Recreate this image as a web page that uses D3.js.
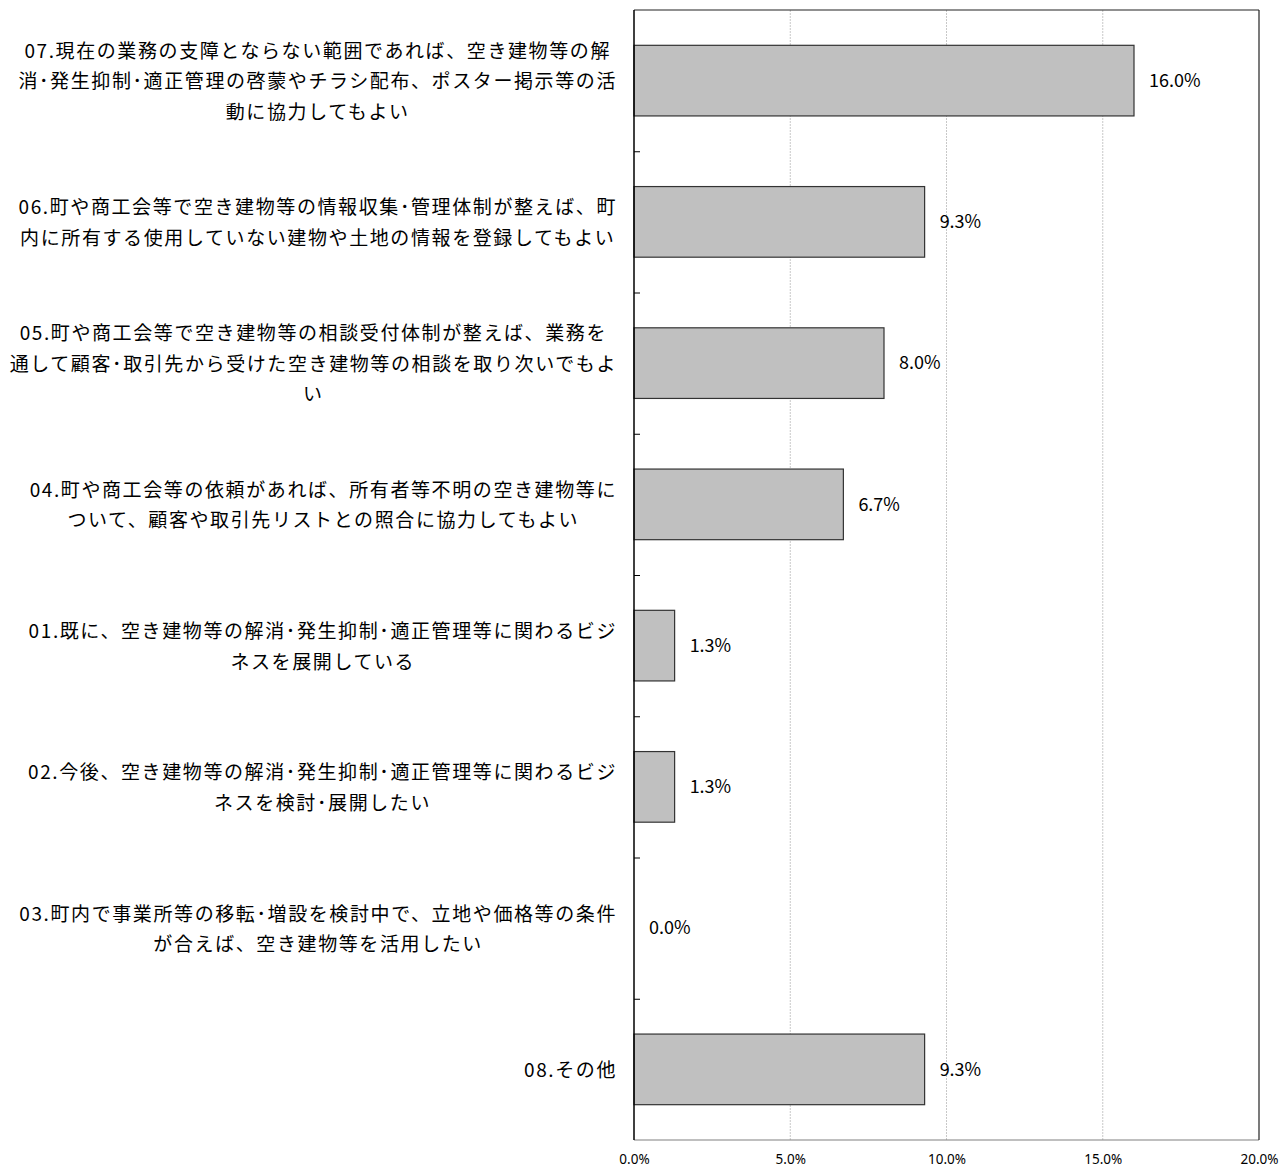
<!DOCTYPE html>
<html>
<head>
<meta charset="utf-8">
<script src="https://cdn.jsdelivr.net/npm/d3@7"></script>
<style>
  body { margin: 0; background: #fff; }
  text { font-family: "Noto Sans CJK JP", "Noto Sans", sans-serif; fill: #000; }
</style>
</head>
<body>
<svg id="chart" width="1282" height="1171"></svg>
<script>
// categories, as wrapped in the picture (one entry per line)
const categories = [
  ["07.現在の業務の支障とならない範囲であれば、空き建物等の解", "消･発生抑制･適正管理の啓蒙やチラシ配布、ポスター掲示等の活", "動に協力してもよい"],
  ["06.町や商工会等で空き建物等の情報収集･管理体制が整えば、町", "内に所有する使用していない建物や土地の情報を登録してもよい"],
  ["05.町や商工会等で空き建物等の相談受付体制が整えば、業務を", "通して顧客･取引先から受けた空き建物等の相談を取り次いでもよ", "い"],
  ["04.町や商工会等の依頼があれば、所有者等不明の空き建物等に", "ついて、顧客や取引先リストとの照合に協力してもよい"],
  ["01.既に、空き建物等の解消･発生抑制･適正管理等に関わるビジ", "ネスを展開している"],
  ["02.今後、空き建物等の解消･発生抑制･適正管理等に関わるビジ", "ネスを検討･展開したい"],
  ["03.町内で事業所等の移転･増設を検討中で、立地や価格等の条件", "が合えば、空き建物等を活用したい"],
  ["08.その他"]
];
const values = [16.0, 9.3, 8.0, 6.7, 1.3, 1.3, 0.0, 9.3];
const xTicks = [0, 5, 10, 15, 20];

let margin = { top: 10, right: 23, bottom: 31, left: 634 };
let width = 1282 - margin.left - margin.right;
let height = 1171 - margin.top - margin.bottom;

let svg = d3.select('#chart');
let g = svg.append("g")
  .attr("transform", "translate(" + margin.left + "," + margin.top + ")");

let x = d3.scaleLinear().domain([0, 20]).range([0, width]);
let y = d3.scaleBand().domain(d3.range(categories.length)).range([0, height]).paddingInner(0.5).paddingOuter(0.25);

// gridlines
g.selectAll(".grid")
  .data(xTicks.slice(1, -1))
  .enter()
  .append("line")
  .attr("x1", d => x(d)).attr("x2", d => x(d))
  .attr("y1", 0).attr("y2", height)
  .attr("stroke", "#c8c8c8")
  .attr("stroke-width", 1)
  .attr("stroke-dasharray", "2,1");

// bars
g.selectAll(".bar")
  .data(values)
  .enter()
  .append("rect")
  .attr("x", x(0))
  .attr("y", (d, i) => y(i))
  .attr("width", d => x(d) - x(0))
  .attr("height", y.bandwidth())
  .attr("fill", "#c0c0c0")
  .attr("stroke", d => d > 0 ? "#333" : "none")
  .attr("stroke-width", 1.2);

// value labels
g.selectAll(".val")
  .data(values)
  .enter()
  .append("text")
  .attr("x", d => x(d) + 15)
  .attr("y", (d, i) => y(i) + y.bandwidth() / 2)
  .attr("dy", "0.35em")
  .style("font-size", "18px")
  .text(d => d.toFixed(1) + "%");

// frame
g.append("line").attr("x1", 0).attr("x2", width).attr("y1", height).attr("y2", height)
  .attr("stroke", "#808080").attr("stroke-width", 1.2);
g.append("line").attr("x1", 0).attr("x2", width).attr("y1", 0).attr("y2", 0)
  .attr("stroke", "#222").attr("stroke-width", 1.2);
g.append("line").attr("x1", width).attr("x2", width).attr("y1", 0).attr("y2", height)
  .attr("stroke", "#222").attr("stroke-width", 1.2);

// left axis with ticks at band boundaries
let yb = d3.scaleLinear().domain([0, categories.length]).range([0, height]);
let left = g.append("g")
  .call(d3.axisLeft(yb).tickValues(d3.range(1, categories.length)).tickSize(-6).tickFormat(""));
left.select(".domain").attr("stroke", "#000").attr("stroke-width", 1.5).attr("d", "M0,0V" + height);
left.selectAll(".tick line").attr("stroke", "#000");

// category labels: lines centered in a block that is right-aligned to the axis
let labelRight = -17;
categories.forEach(function (lines, i) {
  let block = g.append("g");
  let lineH = 30.5;
  let cy = y(i) + y.bandwidth() / 2 + 1;
  let texts = block.selectAll("text")
    .data(lines)
    .enter()
    .append("text")
    .attr("y", (d, j) => cy + (j - (lines.length - 1) / 2) * lineH)
    .attr("dy", "0.35em")
    .attr("text-anchor", "middle")
    .style("font-size", "19px")
    .style("letter-spacing", "1.6px")
    .text(d => d);
  let maxW = 0;
  texts.each(function () { maxW = Math.max(maxW, this.getComputedTextLength()); });
  texts.attr("x", labelRight - maxW / 2);
});

// x axis labels
let xa = g.append("g")
  .attr("transform", "translate(0," + height + ")")
  .call(d3.axisBottom(x).tickValues(xTicks).tickSize(0).tickPadding(0).tickFormat(d => d.toFixed(1) + "%"));
xa.select(".domain").remove();
xa.selectAll("text")
  .style("font-family", "'Noto Sans', sans-serif")
  .style("font-size", "13.5px")
  .attr("fill", "#000").attr("y", 19).attr("dy", "0.35em");
</script>
</body>
</html>
